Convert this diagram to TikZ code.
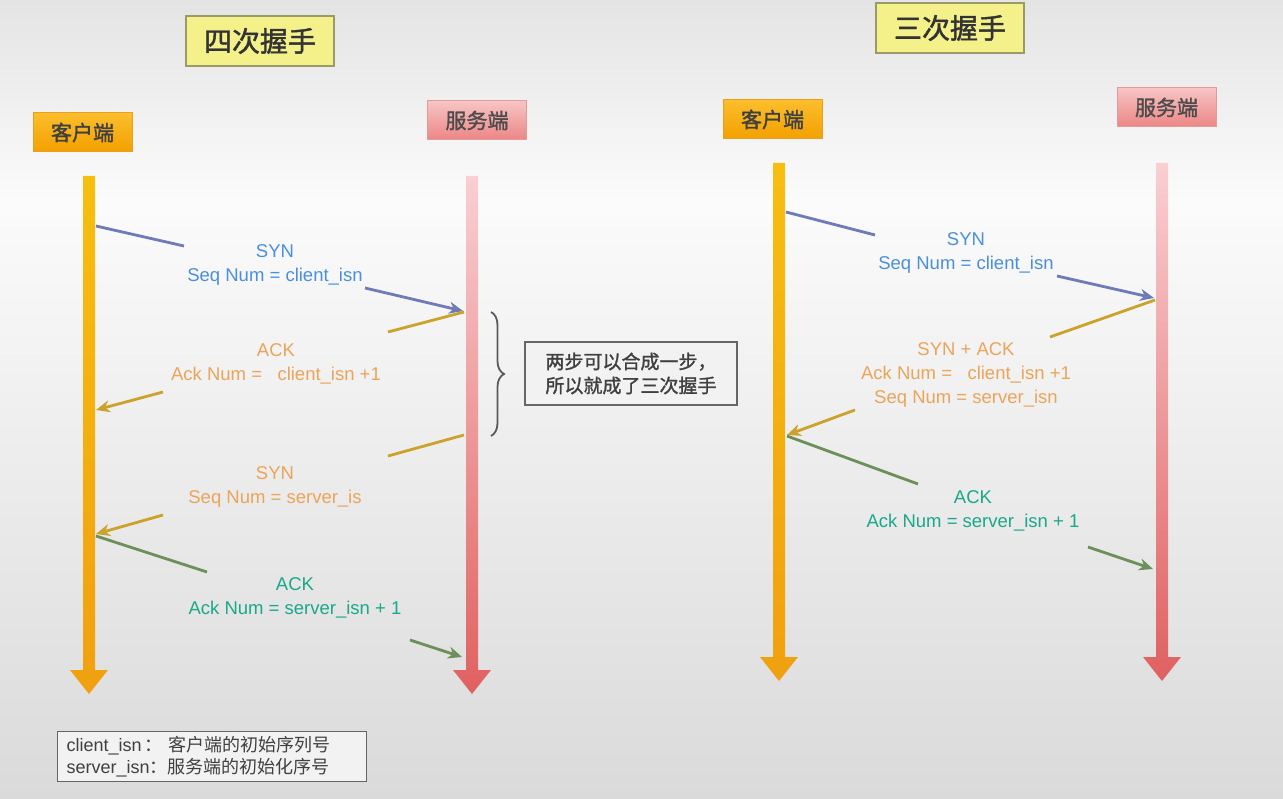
\documentclass[tikz,border=0pt]{standalone}
\usepackage{fontspec}
\setmainfont{Liberation Sans}
\newfontfamily\cjk{Noto Sans CJK SC}
\newfontfamily\cjkb[FakeBold=1.5]{Noto Sans CJK SC}
\usetikzlibrary{arrows.meta,decorations.pathreplacing}
\definecolor{bgtop}{HTML}{E4E4E4}
\definecolor{bgmid}{HTML}{FBFBFB}
\definecolor{bgbot}{HTML}{DADADA}
\definecolor{titlefill}{HTML}{F4F08A}
\definecolor{titledraw}{HTML}{9A9A68}
\definecolor{clitop}{HTML}{FBBE2C}
\definecolor{clibot}{HTML}{F3A000}
\definecolor{clidraw}{HTML}{E8A020}
\definecolor{srvtop}{HTML}{F8C4C4}
\definecolor{srvbot}{HTML}{EC8585}
\definecolor{srvdraw}{HTML}{E49A9A}
\definecolor{bartopC}{HTML}{F7BE10}
\definecolor{barbotC}{HTML}{F0A010}
\definecolor{bartopS}{HTML}{F9CFD2}
\definecolor{barbotS}{HTML}{E06060}
\definecolor{txtblue}{HTML}{4A8FDC}
\definecolor{txtorange}{HTML}{EBA45A}
\definecolor{txtgreen}{HTML}{1AA88A}
\definecolor{lnblue}{HTML}{6F7AB8}
\definecolor{lnolive}{HTML}{CCA22A}
\definecolor{lngreen}{HTML}{6D8F5A}
\tikzset{
  titlebox/.style={draw=titledraw,line width=1.5pt,fill=titlefill,minimum width=148pt,minimum height=50pt,font=\cjkb\fontsize{28}{30}\selectfont,text=black!80},
  clibox/.style={draw=clidraw,line width=1pt,top color=clitop,bottom color=clibot,minimum width=99pt,minimum height=39pt,font=\cjkb\fontsize{21}{24}\selectfont,text=black!75},
  srvbox/.style={draw=srvdraw,line width=1pt,top color=srvtop,bottom color=srvbot,minimum width=99pt,minimum height=39pt,font=\cjkb\fontsize{21}{24}\selectfont,text=black!70},
  msg/.style={align=center,font=\fontsize{18.5}{24}\selectfont,inner sep=0pt},
  msgline/.style={line width=2.8pt},
  tip/.style={-{Stealth[length=14pt,width=12pt]}},
  notebox/.style={draw=black!60,line width=1.2pt,fill=black!5,align=left,inner sep=5pt,text=black!75},
}
\begin{document}
\begin{tikzpicture}[x=1pt,y=-1pt]
\useasboundingbox (0,0) rectangle (1283,799);
% background
\shade[top color=bgtop,bottom color=bgmid] (0,0) rectangle (1283,200);
\shade[top color=bgmid,bottom color=bgbot] (0,199.5) rectangle (1283,799);

% titles
\node[titlebox] (t4) at (260,41) {四次握手};
\node[titlebox] (t3) at (950,28) {三次握手};

% actors
\node[clibox] (c1) at (82.5,132.5) {客户端};
\node[srvbox] (s1) at (477,120.5) {服务端};
\node[clibox] (c2) at (772.5,119.5) {客户端};
\node[srvbox] (s2) at (1166.5,107.5) {服务端};

% timelines
\shade[top color=bartopC,bottom color=barbotC] (83,176) -- (95,176) -- (95,670) -- (108,670) -- (89,694) -- (70,670) -- (83,670) -- cycle;
\shade[top color=bartopS,bottom color=barbotS] (466,176) -- (478,176) -- (478,670) -- (491,670) -- (472,694) -- (453,670) -- (466,670) -- cycle;
\shade[top color=bartopC,bottom color=barbotC] (773,163) -- (785,163) -- (785,657) -- (798,657) -- (779,681) -- (760,657) -- (773,657) -- cycle;
\shade[top color=bartopS,bottom color=barbotS] (1156,163) -- (1168,163) -- (1168,657) -- (1181,657) -- (1162,681) -- (1143,657) -- (1156,657) -- cycle;

% ---------- four-way ----------
\coordinate (a1s) at (96,226);  \coordinate (a1m) at (184,246);
\coordinate (a1n) at (365,288); \coordinate (a1e) at (463,311);
\draw[msgline,lnblue] (a1s) -- (a1m);
\draw[msgline,lnblue,tip] (a1n) -- (a1e);
\node[msg,text=txtblue] (m1) at (275,265) {SYN\\Seq Num = client\_isn};

\coordinate (a2s) at (464,312); \coordinate (a2m) at (388,332);
\coordinate (a2n) at (163,392); \coordinate (a2e) at (96,410);
\draw[msgline,lnolive] (a2s) -- (a2m);
\draw[msgline,lnolive,tip] (a2n) -- (a2e);
\node[msg,text=txtorange] (m2) at (276,364) {ACK\\Ack Num = \ \ client\_isn +1};

\coordinate (a3s) at (464,435); \coordinate (a3m) at (388,456);
\coordinate (a3n) at (163,515); \coordinate (a3e) at (96,534);
\draw[msgline,lnolive] (a3s) -- (a3m);
\draw[msgline,lnolive,tip] (a3n) -- (a3e);
\node[msg,text=txtorange] (m3) at (275,487) {SYN\\Seq Num = server\_is};

\coordinate (a4s) at (96,536);  \coordinate (a4m) at (207,572);
\coordinate (a4n) at (410,640); \coordinate (a4e) at (462,657);
\draw[msgline,lngreen] (a4s) -- (a4m);
\draw[msgline,lngreen,tip] (a4n) -- (a4e);
\node[msg,text=txtgreen] (m4) at (295,598) {ACK\\Ack Num = server\_isn + 1};

% brace and note
\coordinate (b1) at (491,312); \coordinate (b2) at (491,436);
\draw[black!65,line width=1.8pt,decorate,decoration={brace,amplitude=13pt}] (b1) -- (b2);
\node[notebox,font=\cjkb\fontsize{19}{24}\selectfont,minimum width=212pt,minimum height=63pt] (note) at (631,373.5) {两步可以合成一步，\\所以就成了三次握手};

% ---------- three-way ----------
\coordinate (r1s) at (786,212);  \coordinate (r1m) at (875,235);
\coordinate (r1n) at (1057,276); \coordinate (r1e) at (1154,298);
\draw[msgline,lnblue] (r1s) -- (r1m);
\draw[msgline,lnblue,tip] (r1n) -- (r1e);
\node[msg,text=txtblue] (n1) at (966,253) {SYN\\Seq Num = client\_isn};

\coordinate (r2s) at (1155,300); \coordinate (r2m) at (1050,337);
\coordinate (r2n) at (855,410);  \coordinate (r2e) at (787,435);
\draw[msgline,lnolive] (r2s) -- (r2m);
\draw[msgline,lnolive,tip] (r2n) -- (r2e);
\node[msg,text=txtorange] (n2) at (966,375) {SYN + ACK\\Ack Num = \ \ client\_isn +1\\Seq Num = server\_isn};

\coordinate (r3s) at (787,436);  \coordinate (r3m) at (918,484);
\coordinate (r3n) at (1088,547); \coordinate (r3e) at (1153,569);
\draw[msgline,lngreen] (r3s) -- (r3m);
\draw[msgline,lngreen,tip] (r3n) -- (r3e);
\node[msg,text=txtgreen] (n3) at (973,511) {ACK\\Ack Num = server\_isn + 1};

% legend
\node[notebox,font=\fontsize{18}{22.5}\selectfont,minimum height=50pt,text width=291pt,anchor=north west,inner xsep=9pt,inner ysep=2pt] (leg) at (57,731) {client\_isn\,{\cjk：\ 客户端的初始序列号}\\server\_isn{\cjk：服务端的初始化序号}};
\end{tikzpicture}
\end{document}
